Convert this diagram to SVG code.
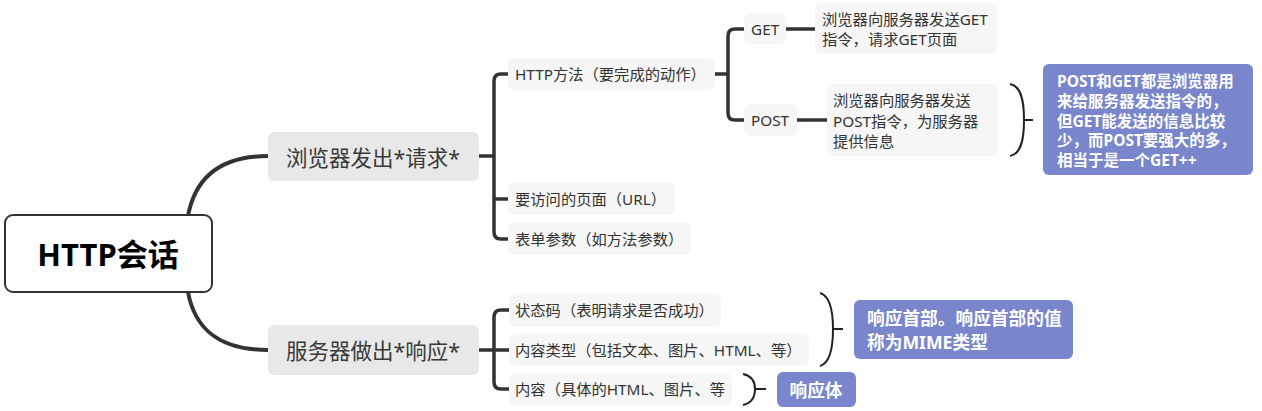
<svg xmlns="http://www.w3.org/2000/svg" width="1262" height="411" viewBox="0 0 1262 411">
<style>
  text { font-family: "Noto Sans", "Noto Sans CJK SC", sans-serif; fill: #333; dominant-baseline: central; }
  .root-box { fill: #fff; stroke: #333; stroke-width: 2; }
  .root-t { font-size: 31px; font-weight: bold; fill: #000; text-anchor: middle; }
  .br-box { fill: #e8e8e8; }
  .br-t { font-size: 21.5px; text-anchor: middle; fill: #3a3a3a; }
  .ch-box { fill: #f6f6f6; }
  .ch-t { font-size: 15.3px; }
  .sum-box { fill: #7986cb; }
  .sum-t { font-weight: bold; fill: #fff; }
  .main { fill: none; stroke: #333; stroke-width: 4; stroke-linecap: round; }
  .sub { fill: none; stroke: #333; stroke-width: 3.5; }
  .brace { fill: none; stroke: #222; stroke-width: 2; }
</style>

<g id="connectors">
  <path class="main" d="M188,216 C195,178 220,156 268,156"/>
  <path class="main" d="M188,292 C195,330 220,350 268,350"/>
  <path class="sub" d="M479,156 H494"/>
  <path class="sub" d="M508,74 H501 Q494,74 494,81 V232 Q494,239 501,239 H508"/>
  <path class="sub" d="M494,199 H508"/>
  <path class="sub" d="M715,74 H728"/>
  <path class="sub" d="M744,29 H735 Q728,29 728,36 V113 Q728,120 735,120 H744"/>
  <path class="sub" d="M786,29 H815"/>
  <path class="sub" d="M797,120 H827"/>
  <path class="sub" d="M479,350 H494"/>
  <path class="sub" d="M509,310 H501 Q494,310 494,317 V382 Q494,389 501,389 H509"/>
  <path class="sub" d="M494,350 H509"/>
  <path class="brace" d="M1010,84 C1021,86 1024,100 1024,120 C1024,140 1021,154 1010,156 M1024,120 H1033"/>
  <path class="brace" d="M820,293 C830,296 833,310 833,329 C833,348 830,363 820,366 M833,329 H843"/>
  <path class="brace" d="M743,374 C752,376 755,382 755,389 C755,396 752,403 743,405 M755,389 H766"/>
</g>

<g id="root">
  <rect class="root-box" x="5" y="215" width="207" height="77" rx="8"/>
  <text class="root-t" x="108" y="254">HTTP会话</text>
</g>

<g id="request">
  <rect class="br-box" x="268" y="132" width="211" height="49" rx="6"/>
  <text class="br-t" x="373" y="157">浏览器发出*请求*</text>
</g>
<g id="response">
  <rect class="br-box" x="268" y="325" width="211" height="50" rx="6"/>
  <text class="br-t" x="373" y="350">服务器做出*响应*</text>
</g>

<g id="http-method">
  <rect class="ch-box" x="508" y="58" width="207" height="32" rx="6"/>
  <text class="ch-t" x="515" y="74">HTTP方法（要完成的动作）</text>
</g>
<g id="url">
  <rect class="ch-box" x="508" y="183" width="167" height="32" rx="6"/>
  <text class="ch-t" x="515" y="199">要访问的页面（URL）</text>
</g>
<g id="form-params">
  <rect class="ch-box" x="508" y="223" width="183" height="32" rx="6"/>
  <text class="ch-t" x="515" y="239">表单参数（如方法参数）</text>
</g>

<g id="get">
  <rect class="ch-box" x="744" y="13" width="42" height="31" rx="6"/>
  <text class="ch-t" x="751" y="29">GET</text>
</g>
<g id="post">
  <rect class="ch-box" x="744" y="104" width="53" height="32" rx="6"/>
  <text class="ch-t" x="751" y="120">POST</text>
</g>
<g id="get-desc">
  <rect class="ch-box" x="815" y="3" width="182" height="51" rx="6"/>
  <text class="ch-t" x="822" y="18.5">浏览器向服务器发送GET</text>
  <text class="ch-t" x="822" y="39">指令，请求GET页面</text>
</g>
<g id="post-desc">
  <rect class="ch-box" x="827" y="84" width="171" height="72" rx="6"/>
  <text class="ch-t" x="833" y="100">浏览器向服务器发送</text>
  <text class="ch-t" x="833" y="120.5">POST指令，为服务器</text>
  <text class="ch-t" x="833" y="141">提供信息</text>
</g>

<g id="summary-post-get">
  <rect class="sum-box" x="1043" y="64" width="210" height="111" rx="6"/>
  <text class="sum-t" x="1057" y="81" font-size="15.5">POST和GET都是浏览器用</text>
  <text class="sum-t" x="1057" y="100.5" font-size="15.5">来给服务器发送指令的，</text>
  <text class="sum-t" x="1057" y="120.5" font-size="15.5">但GET能发送的信息比较</text>
  <text class="sum-t" x="1057" y="140" font-size="15.5">少，而POST要强大的多，</text>
  <text class="sum-t" x="1057" y="160" font-size="15.5">相当于是一个GET++</text>
</g>

<g id="status-code">
  <rect class="ch-box" x="509" y="294" width="212" height="33" rx="6"/>
  <text class="ch-t" x="515" y="310">状态码（表明请求是否成功）</text>
</g>
<g id="content-type">
  <rect class="ch-box" x="509" y="334" width="300" height="32" rx="6"/>
  <text class="ch-t" x="515" y="350">内容类型（包括文本、图片、HTML、等）</text>
</g>
<g id="content">
  <rect class="ch-box" x="509" y="373" width="223" height="32" rx="6"/>
  <text class="ch-t" x="515" y="389">内容（具体的HTML、图片、等</text>
</g>

<g id="summary-header">
  <rect class="sum-box" x="854" y="300" width="219" height="59" rx="6"/>
  <text class="sum-t" x="867" y="318" font-size="17.7">响应首部。响应首部的值</text>
  <text class="sum-t" x="867" y="342" font-size="17.7">称为MIME类型</text>
</g>
<g id="summary-body">
  <rect class="sum-box" x="777" y="372" width="79" height="35" rx="6"/>
  <text class="sum-t" x="816" y="389.5" font-size="17.7" text-anchor="middle">响应体</text>
</g>
</svg>
